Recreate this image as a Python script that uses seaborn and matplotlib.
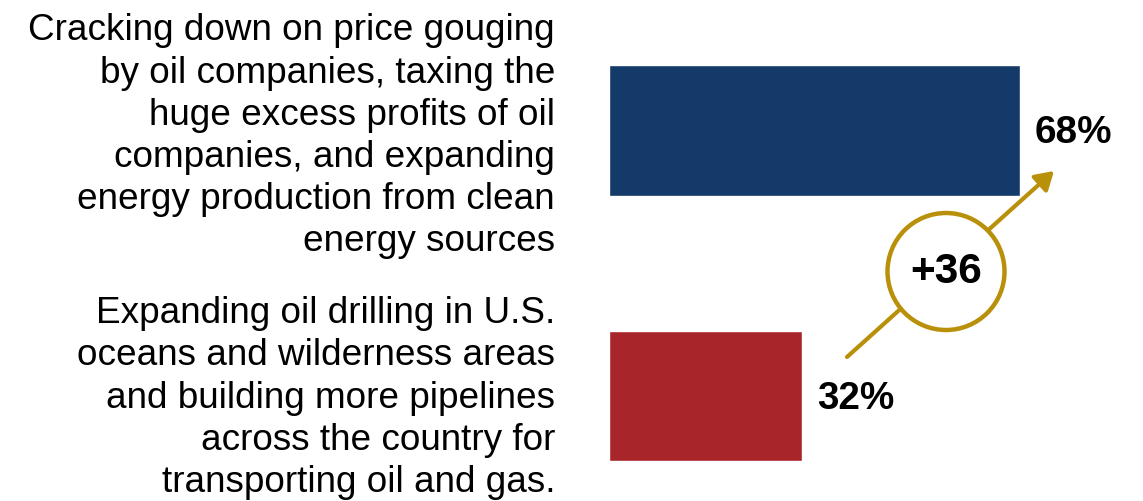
import matplotlib
matplotlib.use("Agg")
import matplotlib.pyplot as plt
import seaborn as sns
import pandas as pd
from matplotlib.patches import Circle

categories = [
    "Cracking down on price gouging\nby oil companies, taxing the\nhuge excess profits of oil\ncompanies, and expanding\nenergy production from clean\nenergy sources",
    "Expanding oil drilling in U.S.\noceans and wilderness areas\nand building more pipelines\nacross the country for\ntransporting oil and gas.",
]
values = [68, 32]
value_labels = ["68%", "32%"]
bar_colors = ["#143A69", "#A8262A"]
diff_label = "+36"
gold = "#B8900A"

sns.set_theme(style="white")
plt.rcParams['font.family'] = ['Liberation Sans', 'DejaVu Sans']

fig = plt.figure(figsize=(11.43, 5.01), dpi=100)
ax = fig.add_axes([609 / 1143, 0, 1 - 609 / 1143, 1])

df = pd.DataFrame({"cat": categories, "val": values})
sns.barplot(data=df, x="val", y="cat", hue="cat", palette=bar_colors,
            orient="h", width=0.493, legend=False, ax=ax, saturation=1)

ax.set_xlim(0, (1143 - 609) / 6.04)
ax.set_ylim(1.3955, -0.4915)
ax.set_xlabel("")
ax.set_ylabel("")
ax.set_xticks([])
ax.set_yticks([])
for s in ax.spines.values():
    s.set_visible(False)

# category labels, right-aligned left of the bars
label_x = -(609 - 555) / 6.04
label_dy = [0.022, 0.008]
for i, cat in enumerate(categories):
    ax.text(label_x, i + label_dy[i], cat, ha="right", va="center",
            fontsize=26.6, linespacing=1.265, color="black", clip_on=False)

for i, (v, t) in enumerate(zip(values, value_labels)):
    ax.text(v + 2.5, i + 0.01, t, ha="left", va="center", fontsize=27.8,
            fontweight="bold", color="black")

# arrow and circle (in inches from figure bottom-left)
tr = fig.dpi_scale_trans
ax.annotate("", xy=(10.54, (501 - 171) / 100), xytext=(8.47, (501 - 357) / 100),
            xycoords=tr, textcoords=tr,
            arrowprops=dict(arrowstyle="-|>,head_length=0.9,head_width=0.55",
                            color=gold, lw=3, shrinkA=0, shrinkB=0))
circ = Circle((9.46, (501 - 271.5) / 100), 0.585, transform=tr,
              facecolor="white", edgecolor=gold, lw=3.2, zorder=5)
fig.add_artist(circ)
fig.text(9.46 / 11.43, (501 - 272) / 501, diff_label, ha="center", va="center",
         fontsize=30.5, fontweight="bold", color="black", zorder=6)

fig.savefig("out.png", dpi=100, facecolor="white")
